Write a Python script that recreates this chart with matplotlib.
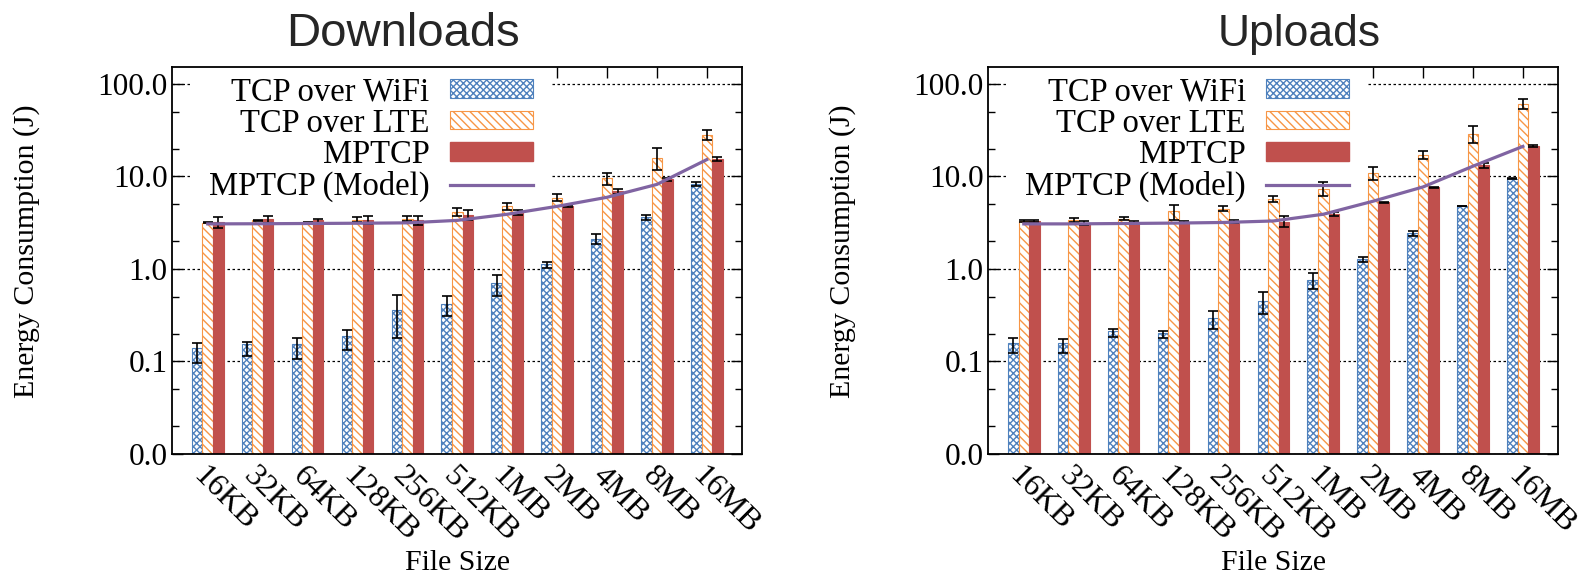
import numpy as np
import matplotlib
matplotlib.use('Agg')
import matplotlib.pyplot as plt
from matplotlib.patches import Rectangle, Patch
from matplotlib.lines import Line2D
from matplotlib.ticker import LogLocator, FormatStrFormatter, FixedLocator

sizes = ['16KB', '32KB', '64KB', '128KB', '256KB', '512KB', '1MB', '2MB', '4MB', '8MB', '16MB']

# Downloads (J)
dl_wifi = [0.130, 0.144, 0.144, 0.179, 0.353, 0.407, 0.688, 1.11, 2.11, 3.62, 8.34]
dl_wifi_lo = [0.096, 0.115, 0.106, 0.133, 0.179, 0.31, 0.505, 1.03, 1.87, 3.39, 7.8]
dl_wifi_hi = [0.16, 0.163, 0.178, 0.218, 0.52, 0.505, 0.86, 1.2, 2.39, 3.87, 8.77]
dl_lte = [3.15, 3.33, 3.2, 3.4, 3.5, 4.1, 4.73, 5.88, 9.5, 15.8, 27.8]
dl_lte_lo = [3.1, 3.28, 3.15, 3.2, 3.33, 3.71, 4.36, 5.36, 8.17, 11.6, 24.6]
dl_lte_hi = [3.2, 3.38, 3.25, 3.62, 3.71, 4.58, 5.15, 6.38, 10.85, 20.4, 32.0]
dl_mp = [3.2, 3.42, 3.33, 3.33, 3.33, 3.84, 4.1, 4.76, 6.88, 9.3, 15.3]
dl_mp_lo = [2.78, 3.12, 3.17, 3.04, 3.0, 3.42, 3.87, 4.65, 6.38, 8.9, 14.5]
dl_mp_hi = [3.6, 3.75, 3.5, 3.71, 3.71, 4.32, 4.36, 4.88, 7.36, 9.7, 16.2]
dl_model = [3.07, 3.08, 3.1, 3.12, 3.15, 3.35, 3.9, 4.75, 5.95, 8.2, 15.2]

# Uploads (J)
ul_wifi = [0.150, 0.150, 0.203, 0.194, 0.287, 0.435, 0.747, 1.26, 2.43, 4.77, 9.44]
ul_wifi_lo = [0.125, 0.124, 0.182, 0.179, 0.224, 0.325, 0.607, 1.2, 2.28, 4.74, 9.3]
ul_wifi_hi = [0.179, 0.175, 0.224, 0.211, 0.354, 0.56, 0.9, 1.34, 2.58, 4.8, 9.7]
ul_lte = [3.28, 3.40, 3.5, 4.2, 4.47, 5.73, 7.36, 10.9, 16.9, 28.5, 61.3]
ul_lte_lo = [3.22, 3.2, 3.4, 3.42, 4.2, 5.27, 6.2, 9.04, 15.3, 22.9, 54.2]
ul_lte_hi = [3.34, 3.57, 3.62, 4.97, 4.76, 6.2, 8.7, 12.8, 18.7, 34.7, 68.5]
ul_mp = [3.28, 3.15, 3.2, 3.2, 3.25, 3.2, 3.94, 5.27, 7.65, 13.2, 21.5]
ul_mp_lo = [3.22, 2.95, 3.07, 3.1, 3.1, 2.82, 3.78, 5.2, 7.55, 12.4, 21.0]
ul_mp_hi = [3.34, 3.33, 3.33, 3.3, 3.42, 3.78, 4.1, 5.35, 7.75, 14.1, 22.0]
ul_model = [3.07, 3.07, 3.1, 3.13, 3.18, 3.3, 3.9, 5.4, 7.7, 12.9, 21.1]

blue = '#4f81bd'
orange = '#f79646'
red = '#c0504d'
purple = '#8064a2'
serif = 'Liberation Serif'
fs = 22.5      # y tick labels
fs_lab = 21.5  # axis labels
fs_key = 23.5  # legend text
fs_x = 23      # rotated file-size labels

plt.rcParams['hatch.linewidth'] = 1.0
plt.rcParams['font.family'] = serif

fig = plt.figure(figsize=(15.88, 5.82), dpi=100)


def draw_panel(ax, wifi, wlo, whi, lte, llo, lhi, mp, mlo, mhi, model):
    x = np.arange(len(sizes))
    w = 0.211
    series = [
        (x - w, wifi, wlo, whi, dict(facecolor='white', edgecolor=blue, hatch='xxxxx', linewidth=0.8)),
        (x, lte, llo, lhi, dict(facecolor='white', edgecolor=orange, hatch='\\\\\\\\', linewidth=0.8)),
        (x + w, mp, mlo, mhi, dict(facecolor=red, edgecolor=red, linewidth=0.8)),
    ]
    for xs, vals, lo, hi, style in series:
        vals = np.array(vals)
        ax.bar(xs, vals, w, bottom=0.01, zorder=2, **style)
        yerr = [vals - np.array(lo), np.array(hi) - vals]
        ax.errorbar(xs, vals, yerr=yerr, fmt='none', ecolor='black',
                    elinewidth=1.2, capsize=3.5, capthick=1.2, zorder=3)
    ax.plot(x, model, color=purple, linewidth=2.3, zorder=4)

    ax.set_yscale('log')
    ax.set_ylim(0.01, 151)
    ax.set_xlim(-0.71, 10.70)
    ax.yaxis.set_major_locator(FixedLocator([0.01, 0.1, 1, 10, 100]))
    ax.yaxis.set_major_formatter(FormatStrFormatter('%.1f'))
    ax.yaxis.set_minor_locator(LogLocator(base=10, subs=(2, 5)))
    ax.yaxis.set_minor_formatter(plt.NullFormatter())
    ax.set_xticks(x)
    ax.set_xticklabels(sizes, rotation=-45, ha='left', va='top',
                       rotation_mode='anchor', fontsize=fs_x, family=serif)
    ax.tick_params(axis='both', which='both', direction='in', top=True, right=True)
    ax.tick_params(axis='both', which='major', length=8, width=1)
    ax.tick_params(axis='y', which='major', labelsize=fs)
    ax.tick_params(axis='y', which='minor', length=5, width=1)
    ax.tick_params(axis='x', which='major', pad=5)
    for s in ax.spines.values():
        s.set_linewidth(1.3)

    ax.set_axisbelow(True)
    ax.yaxis.grid(True, which='major', linestyle=(0, (2, 2)), color='black', linewidth=0.9)

    # white key area hides the grid lines
    ax.add_patch(Rectangle((0.034, 0.644), 0.63, 0.356, transform=ax.transAxes,
                           facecolor='white', edgecolor='none', zorder=1))

    handles = [
        Patch(facecolor='white', edgecolor=blue, hatch='xxxxx', linewidth=0.8),
        Patch(facecolor='white', edgecolor=orange, hatch='\\\\\\\\', linewidth=0.8),
        Patch(facecolor=red, edgecolor=red),
        Line2D([], [], color=purple, linewidth=2.3),
    ]
    labels = ['TCP over WiFi', 'TCP over LTE', 'MPTCP', 'MPTCP (Model)']
    ax.legend(handles, labels, loc='upper right', bbox_to_anchor=(0.6335, 0.976),
              frameon=False, markerfirst=False, borderpad=0,
              borderaxespad=0, handlelength=2.55, handleheight=0.5,
              handletextpad=0.62, labelspacing=0.03, prop={'family': serif, 'size': fs_key})

    ax.set_ylabel('Energy Consumption (J)', fontsize=fs_lab, family=serif)
    ax.yaxis.set_label_coords(-0.232, 0.525)
    ax.set_xlabel('File Size', fontsize=fs_lab, family=serif, va='top')
    ax.xaxis.set_label_coords(0.5, -0.248)


ax1 = fig.add_axes([0.1085, 0.2199, 0.3586, 0.6644])
draw_panel(ax1, dl_wifi, dl_wifi_lo, dl_wifi_hi, dl_lte, dl_lte_lo, dl_lte_hi,
           dl_mp, dl_mp_lo, dl_mp_hi, dl_model)
ax2 = fig.add_axes([0.6224, 0.2199, 0.3586, 0.6644])
draw_panel(ax2, ul_wifi, ul_wifi_lo, ul_wifi_hi, ul_lte, ul_lte_lo, ul_lte_hi,
           ul_mp, ul_mp_lo, ul_mp_hi, ul_model)

fig.text(402.6 / 1588, 1 - 45.6 / 582, 'Downloads', ha='center', va='baseline',
         fontsize=34, family='Liberation Sans', color='#262626')
fig.text(1299 / 1588, 1 - 45.6 / 582, 'Uploads', ha='center', va='baseline',
         fontsize=32, family='Liberation Sans', color='#262626')

fig.savefig('out.png', dpi=100)
